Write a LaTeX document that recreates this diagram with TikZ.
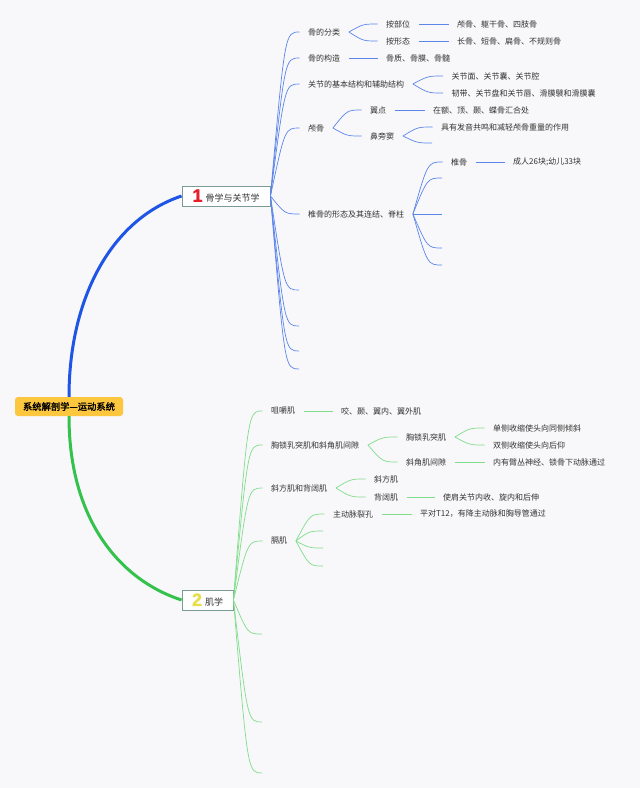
\documentclass[tikz,border=0pt]{standalone}
\usepackage{fontspec}
\setmainfont{Noto Sans CJK SC}
\newfontfamily\cjk{Noto Sans CJK SC}
\newfontfamily\cjkb[FakeBold=2]{Noto Sans CJK SC}
\newfontfamily\numf[FakeBold=1]{Liberation Sans Bold}
\usetikzlibrary{calc}
\definecolor{bg}{HTML}{F8F8FA}
\definecolor{txt}{HTML}{333333}
\definecolor{bthick}{HTML}{1F55E6}
\definecolor{bthin}{HTML}{5C85EA}
\definecolor{gthick}{HTML}{35C24C}
\definecolor{gthin}{HTML}{80DD8A}
\definecolor{rootfill}{HTML}{FCC63F}
\definecolor{boxline}{HTML}{7A9C94}
\definecolor{numred}{HTML}{E4202A}
\definecolor{numyel}{HTML}{E6DE4A}
\newcommand\brc[3]{\draw[#1] (#2) .. controls ($(#3 -| #2)!0.5!(#3)$) .. (#3);}
\tikzset{
  lf/.style={anchor=west, inner xsep=8.5pt, inner ysep=0pt, text=txt,
    font=\cjk\fontsize{8}{9}\selectfont},
  rootbox/.style={fill=rootfill, rounded corners=3pt, minimum width=108pt,
    minimum height=19pt, inner sep=0pt, text=black, font=\cjkb\fontsize{9.3}{10}\selectfont},
  topicbox/.style={draw=boxline, line width=0.9pt, fill=white, minimum height=20pt,
    inner sep=0pt, text=txt, font=\cjk\fontsize{9}{10}\selectfont},
  bcurve/.style={bthin, line width=0.7pt},
  gcurve/.style={gthin, line width=0.7pt},
  bline/.style={bthin, line width=0.9pt},
  gline/.style={gthin, line width=0.9pt},
}
\begin{document}
\begin{tikzpicture}[x=1pt,y=-1pt]
\fill[bg] (0,0) rectangle (640,788);
\useasboundingbox (0,0) rectangle (640,788);

% root and main topics
\node[rootbox] (root) at (69,406.5) {系统解剖学—运动系统};
\node[topicbox, minimum width=88pt] (n1) at (226,196)
  {{\numf\fontsize{18}{18}\selectfont\color{numred}1}\hspace{3pt}骨学与关节学};
\node[topicbox, minimum width=51pt] (n2) at (207.5,600)
  {{\numf\fontsize{18}{18}\selectfont\color{numyel}2}\hspace{3pt}肌学};

\draw[bthick, line width=3pt] (root.north) .. controls (69,300) and (110,220) .. (n1.west);
\draw[gthick, line width=3pt] (root.south) .. controls (69,520) and (120,580) .. (n2.west);

% ---- topic 1 ----
\node[lf] (a1) at (299.5,32) {骨的分类};
\node[lf] (a2) at (299.5,58) {骨的构造};
\node[lf] (a3) at (299.5,84) {关节的基本结构和辅助结构};
\node[lf] (a4) at (299.5,128) {颅骨};
\node[lf] (a5) at (299.5,214) {椎骨的形态及其连结、脊柱};
\coordinate (e1) at (299,290);
\coordinate (e2) at (299,326);
\coordinate (e3) at (299,351);
\coordinate (e4) at (299,369);
\foreach \t in {a1.west,a2.west,a3.west,a4.west,a5.west,e1,e2,e3,e4}{\brc{bcurve}{n1.east}{\t}}

\node[lf] (b1) at (377.5,24) {按部位};
\node[lf] (b2) at (377.5,41) {按形态};
\node[lf] (b3) at (377.5,58) {骨质、骨膜、骨髓};
\node[lf] (c1) at (448.5,24) {颅骨、躯干骨、四肢骨};
\node[lf] (c2) at (448.5,41) {长骨、短骨、扁骨、不规则骨};
\brc{bcurve}{a1.east}{b1.west}
\brc{bcurve}{a1.east}{b2.west}
\draw[bline] (a2.east) -- (b3.west);
\draw[bline] (b1.east) -- (c1.west);
\draw[bline] (b2.east) -- (c2.west);

\node[lf] (b4) at (443,76) {关节面、关节囊、关节腔};
\node[lf] (b5) at (443,93) {韧带、关节盘和关节唇、滑膜襞和滑膜囊};
\brc{bcurve}{a3.east}{b4.west}
\brc{bcurve}{a3.east}{b5.west}

\node[lf] (b6) at (361.5,110) {翼点};
\node[lf] (b7) at (361.5,136) {鼻旁窦};
\node[lf] (c3) at (424.5,110) {在额、顶、颞、蝶骨汇合处};
\node[lf] (c4) at (432.5,127) {具有发音共鸣和减轻颅骨重量的作用};
\coordinate (e5) at (432,143);
\brc{bcurve}{a4.east}{b6.west}
\brc{bcurve}{a4.east}{b7.west}
\draw[bline] (b6.east) -- (c3.west);
\brc{bcurve}{b7.east}{c4.west}
\brc{bcurve}{b7.east}{e5}

\node[lf] (b8) at (442.5,162) {椎骨};
\node[lf] (c5) at (504.5,162) {成人26块;幼儿33块};
\coordinate (e6) at (442,178);
\coordinate (e7) at (442,214);
\coordinate (e8) at (442,248);
\coordinate (e9) at (442,265);
\foreach \t in {b8.west,e6,e7,e8,e9}{\brc{bcurve}{a5.east}{\t}}
\draw[bline] (b8.east) -- (c5.west);

% ---- topic 2 ----
\node[lf] (d1) at (262.5,411) {咀嚼肌};
\node[lf] (d2) at (262.5,445) {胸锁乳突肌和斜角肌间隙};
\node[lf] (d3) at (262.5,488) {斜方肌和背阔肌};
\node[lf] (d4) at (262.5,541) {膈肌};
\coordinate (e10) at (262,634);
\coordinate (e11) at (262,722);
\coordinate (e12) at (262,773);
\foreach \t in {d1.west,d2.west,d3.west,d4.west,e10,e11,e12}{\brc{gcurve}{n2.east}{\t}}

\node[lf] (f1) at (332.5,411) {咬、颞、翼内、翼外肌};
\draw[gline] (d1.east) -- (f1.west);

\node[lf] (f2) at (397.5,437) {胸锁乳突肌};
\node[lf] (f3) at (397.5,462) {斜角肌间隙};
\node[lf] (g1) at (484.5,428) {单侧收缩使头向同侧倾斜};
\node[lf] (g2) at (484.5,445) {双侧收缩使头向后仰};
\node[lf] (g3) at (484.5,462) {内有臂丛神经、锁骨下动脉通过};
\brc{gcurve}{d2.east}{f2.west}
\brc{gcurve}{d2.east}{f3.west}
\brc{gcurve}{f2.east}{g1.west}
\brc{gcurve}{f2.east}{g2.west}
\draw[gline] (f3.east) -- (g3.west);

\node[lf] (f4) at (365.5,479) {斜方肌};
\node[lf] (f5) at (365.5,497) {背阔肌};
\node[lf] (g4) at (434.5,497) {使肩关节内收、旋内和后伸};
\brc{gcurve}{d3.east}{f4.west}
\brc{gcurve}{d3.east}{f5.west}
\draw[gline] (f5.east) -- (g4.west);

\node[lf] (f6) at (324.5,514) {主动脉裂孔};
\node[lf] (g5) at (411.5,514) {平对T12，有降主动脉和胸导管通过};
\coordinate (e13) at (323,531);
\coordinate (e14) at (323,548);
\coordinate (e15) at (323,566);
\foreach \t in {f6.west,e13,e14,e15}{\brc{gcurve}{d4.east}{\t}}
\draw[gline] (f6.east) -- (g5.west);
\end{tikzpicture}
\end{document}
